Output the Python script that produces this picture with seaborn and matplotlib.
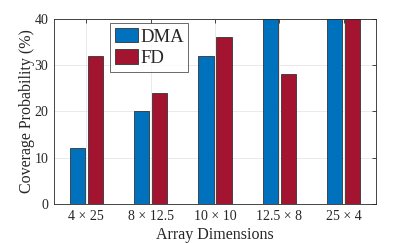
import matplotlib
matplotlib.use("Agg")
import matplotlib.pyplot as plt
import seaborn as sns
import pandas as pd

categories = ["4 × 25", "8 × 12.5", "10 × 10", "12.5 × 8", "25 × 4"]
dma = [12, 20, 32, 48, 55]
fd = [32, 24, 36, 28, 50]
series_names = ["DMA", "FD"]
colors = ["#0072BD", "#A2142F"]
yticks = [0, 10, 20, 30, 40]

df = pd.DataFrame({
    "cat": categories * 2,
    "val": dma + fd,
    "series": [series_names[0]] * len(categories) + [series_names[1]] * len(categories),
})

sns.set_style("white")
plt.rcParams["font.family"] = ["Liberation Serif", "DejaVu Serif"]

fig = plt.figure(figsize=(4.15, 2.43), dpi=100)
ax = fig.add_axes([54/415, 1 - 204/243, (376-54)/415, (204-18.7)/243])

sns.barplot(data=df, x="cat", y="val", hue="series", palette=colors,
            width=0.56, gap=0.15, dodge=True, ax=ax, edgecolor="#333333",
            linewidth=0.6, saturation=1, zorder=3)

ax.set_ylim(0, 40)
ax.set_xlim(-0.5, 4.5)
ax.set_yticks(yticks)
ax.grid(True, color="#e6e6e6", linewidth=0.6, zorder=0)
ax.set_axisbelow(True)
for s in ax.spines.values():
    s.set_visible(True)
    s.set_color("#262626")
    s.set_linewidth(0.6)
    s.set_zorder(5)
ax.tick_params(axis="both", direction="in", length=3, width=0.6, color="#262626",
               labelsize=10, labelcolor="#262626", top=True, right=True, pad=4)
ax.set_xlabel("Array Dimensions", fontsize=11.5, color="#262626", labelpad=3)
ax.set_ylabel("Coverage Probability (%)", fontsize=11.5, color="#262626", labelpad=0)

leg = ax.legend(loc="upper left", bbox_to_anchor=(0.174, 0.975), fontsize=13.5,
                frameon=True, fancybox=False, edgecolor="#262626",
                handlelength=1.25, handleheight=0.8, handletextpad=0.1,
                borderpad=0.25, labelspacing=0.2, borderaxespad=0)
leg.get_frame().set_linewidth(0.6)
leg.set_zorder(10)

fig.savefig("out.png", dpi=100)
